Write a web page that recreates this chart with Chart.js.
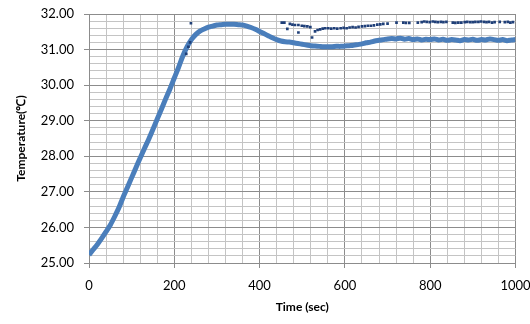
<!DOCTYPE html>
<html>
<head>
<meta charset="utf-8">
<script src="https://cdn.jsdelivr.net/npm/chart.js@4/dist/chart.umd.min.js"></script>
<style>
  html, body { margin: 0; padding: 0; background: #fff; }
  #wrap { width: 530px; height: 324px; }
</style>
</head>
<body>
<div id="wrap"><canvas id="tempChart"></canvas></div>
<script>
// ── Dados ────────────────────────────────────────────────────────────────────
const mainTime = [0,10,20,30,40,50,60,70,80,90,100,110,120,130,140,150,160,170,180,190,
  200,210,220,230,240,250,260,270,280,290,300,310,320,330,340,350,360,370,380,390,
  400,410,420,430,440,450,460,470,480,490,500,510,520,530,540,550,560,570,580,590,
  600,610,620,630,640,650,660,670,680,690,700,710,720,730,740,750,760,770,780,790,
  800,810,820,830,840,850,860,870,880,890,900,910,920,930,940,950,960,970,980,990,1000];
const mainTemp = [25.23,25.38,25.53,25.70,25.88,26.07,26.30,26.55,26.85,27.12,
  27.40,27.68,27.95,28.22,28.48,28.76,29.05,29.33,29.62,29.90,
  30.20,30.50,30.82,31.08,31.28,31.42,31.52,31.58,31.63,31.66,
  31.69,31.70,31.71,31.71,31.71,31.70,31.69,31.66,31.62,31.57,
  31.51,31.45,31.39,31.33,31.28,31.24,31.22,31.21,31.19,31.17,
  31.15,31.13,31.11,31.10,31.09,31.08,31.08,31.08,31.09,31.09,
  31.10,31.11,31.12,31.14,31.16,31.19,31.21,31.24,31.26,31.28,
  31.30,31.31,31.30,31.32,31.29,31.31,31.28,31.30,31.27,31.29,
  31.28,31.30,31.27,31.29,31.26,31.28,31.27,31.25,31.28,31.27,
  31.29,31.26,31.28,31.27,31.30,31.28,31.26,31.28,31.25,31.27,31.28];

const upperTime = [228,233,237,239,
  452,458,465,471,477,483,491,491,499,505,512,519,523,530,536,542,548,554,561,
  568,575,582,590,597,604,611,618,625,632,640,647,654,661,668,676,683,690,700,
  721,737,743,751,771,780,786,792,799,806,812,818,825,831,838,853,859,866,873,
  881,887,894,900,906,913,919,926,932,938,945,951,963,975,982,988,994];
const upperTemp = [30.88,31.08,31.20,31.74,
  31.76,31.76,31.58,31.72,31.70,31.69,31.69,31.48,31.67,31.66,31.65,31.63,31.34,31.51,31.55,31.57,31.59,31.60,31.60,
  31.59,31.60,31.59,31.60,31.61,31.60,31.62,31.63,31.62,31.64,31.65,31.66,31.67,31.67,31.68,31.70,31.71,31.72,31.73,
  31.76,31.76,31.75,31.75,31.76,31.77,31.79,31.78,31.77,31.79,31.78,31.77,31.78,31.77,31.78,31.76,31.75,31.76,31.76,
  31.77,31.78,31.77,31.77,31.78,31.78,31.79,31.78,31.77,31.78,31.76,31.77,31.78,31.77,31.78,31.76,31.77];

const xMin = 0, xMax = 1000, xStep = 40, xMajor = 200;
const yMin = 25, yMax = 32, yStep = 0.2;

// ── Gráfico ──────────────────────────────────────────────────────────────────
const isInt = v => Math.abs(v - Math.round(v)) < 1e-6;
const isMajorX = v => Math.round(v) % xMajor === 0;

const font = { family: "Lato, 'Open Sans', sans-serif", size: 13 };
const titleFont = { family: "Lato, 'Open Sans', sans-serif", size: 12, weight: "bold" };

new Chart(document.getElementById("tempChart"), {
  type: "scatter",
  data: {
    datasets: [
      {
        label: "upper",
        data: upperTime.map((t, i) => ({ x: t, y: upperTemp[i] })),
        showLine: false,
        pointStyle: "rect",
        pointRadius: 1.9,
        backgroundColor: "#1f3f78",
        borderColor: "#1f3f78",
        borderWidth: 0,
        order: 0
      },
      {
        label: "main",
        data: mainTime.map((t, i) => ({ x: t, y: mainTemp[i] })),
        showLine: true,
        borderColor: "#4a7ebb",
        borderWidth: 5,
        pointRadius: 0,
        tension: 0.3,
        order: 1
      }
    ]
  },
  options: {
    responsive: true,
    maintainAspectRatio: false,
    animation: false,
    layout: { padding: { top: 14, right: 14.5, left: 0, bottom: 0 } },
    plugins: { legend: { display: false }, tooltip: { enabled: false } },
    scales: {
      x: {
        type: "linear",
        min: xMin, max: xMax,
        afterFit: s => { s.height = 61; s.paddingLeft = 0; s.paddingRight = 0; },
        ticks: {
          stepSize: xStep,
          autoSkip: false,
          maxRotation: 0,
          color: "#000",
          font,
          padding: 10,
          callback: v => isMajorX(v) ? String(v) : ""
        },
        grid: {
          color: c => isMajorX(c.tick.value) ? "#8c8c8c" : "#c4c4c4",
          tickColor: c => isMajorX(c.tick.value) ? "#8c8c8c" : "rgba(0,0,0,0)",
          tickLength: 5,
          lineWidth: 1
        },
        border: { color: "#8c8c8c" },
        title: {
          display: true,
          text: "Time (sec)",
          color: "#000",
          font: titleFont,
          padding: { top: 2, bottom: 10 }
        }
      },
      y: {
        min: yMin, max: yMax,
        afterFit: s => { s.width = 89; s.paddingTop = 0; s.paddingBottom = 0; },
        ticks: {
          stepSize: yStep,
          autoSkip: false,
          color: "#000",
          font,
          padding: 10,
          callback: v => isInt(v) ? Number(v).toFixed(2) : ""
        },
        grid: {
          color: c => isInt(c.tick.value) ? "#8c8c8c" : "#c4c4c4",
          tickColor: c => isInt(c.tick.value) ? "#8c8c8c" : "rgba(0,0,0,0)",
          tickLength: 5,
          lineWidth: 1
        },
        border: { color: "#8c8c8c" },
        title: {
          display: true,
          text: "Temperature(℃)",
          color: "#000",
          font: titleFont,
          padding: { top: 14, bottom: 4 }
        }
      }
    }
  }
});
</script>
</body>
</html>
